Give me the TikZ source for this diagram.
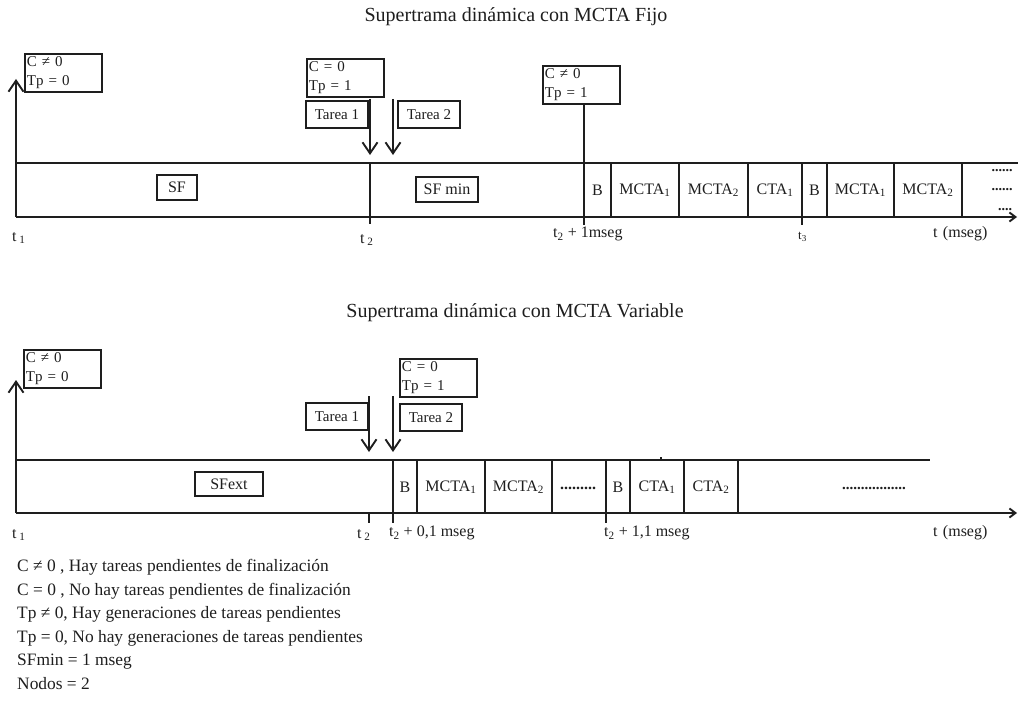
\documentclass[tikz,border=0pt]{standalone}
\usepackage{fontspec}
\setmainfont{Liberation Serif}
\usetikzlibrary{arrows.meta}
\definecolor{ink}{HTML}{1E1E1E}
\newcommand{\sbs}[1]{\textsubscript{#1}}
\begin{document}
\begin{tikzpicture}[x=1pt,y=-1pt,
  ln/.style={line width=1.9pt, draw=ink},
  flag/.style={draw=ink, line width=1.9pt, text=ink, font=\fontsize{15}{19}\selectfont, inner sep=0pt},
  condbox/.style={flag, text width=73pt, minimum height=38pt, align=left, inner xsep=2pt, anchor=north west},
  taskbox/.style={flag, minimum width=62pt, minimum height=27pt, anchor=north west},
  framebox/.style={flag, font=\fontsize{16}{19}\selectfont, minimum height=25pt},
  cell/.style={text=ink, font=\fontsize{16}{19}\selectfont, inner sep=0pt},
  dots/.style={text=ink, inner sep=0pt, font=\fontsize{#1}{#1}\selectfont\bfseries},
  tlabel/.style={text=ink, font=\fontsize{16}{19}\selectfont, inner sep=0pt, anchor=west},
  heading/.style={text=ink, font=\fontsize{20}{24}\selectfont, inner sep=0pt},
  legend/.style={text=ink, font=\fontsize{17.4}{20}\selectfont, anchor=base west, inner sep=0pt},
  barb/.style={-{Straight Barb[length=11pt,width=15pt]}},
  axis/.style={-{Straight Barb[length=6pt,width=9pt]}},
]
\useasboundingbox (0,0) rectangle (1018,725);

% ---------------- Fixed MCTA superframe ----------------
\node[heading] (titleA) at (516,17) {Supertrama dinámica con MCTA Fijo};

\coordinate (aTL) at (16,163);
\coordinate (aBL) at (16,217);
\coordinate (aTR) at (1018,163);
\coordinate (aBR) at (1017,217);
\coordinate (aUp) at (16,79);
\draw[ln] (aTL) -- (aTR);
\draw[ln,axis] (aBL) -- (aBR);
\draw[ln,barb] (aBL) -- (aUp);

\node[condbox] (aC1) at (24,53) {C ≠ 0\\Tp = 0};
\node[condbox] (aC2) at (306,58) {C = 0\\Tp = 1};
\node[condbox] (aC3) at (542,65) {C ≠ 0\\Tp = 1};
\node[taskbox] (aT1) at (305,100) {Tarea 1};
\node[taskbox] (aT2) at (397,100) {Tarea 2};

% task arrivals
\coordinate (aA1s) at (370,99);  \coordinate (aA1e) at (370,155);
\coordinate (aA2s) at (393,99);  \coordinate (aA2e) at (393,155);
\draw[ln,barb] (aA1s) -- (aA1e);
\draw[ln,barb] (aA2s) -- (aA2e);

% slot boundaries
\coordinate (aT2tick) at (370,224);
\coordinate (aT1msTick) at (584,225);
\coordinate (aT3tick) at (802,225);
\draw[ln] (370,163) -- (aT2tick);
\draw[ln] (aC3.south -| aT1msTick) -- (aT1msTick);
\draw[ln] (802,163) -- (aT3tick);
\foreach \x in {611,679,748,827,894,962}
  \draw[ln] (\x,163) -- (\x,217);

\node[framebox, minimum width=40pt] (aSF) at (177,187.5) {SF};
\node[framebox, minimum width=62pt] (aSFmin) at (447,189.5) {SF min};

\node[cell] (aB1) at (597.5,190) {B};
\node[cell] (aM1) at (645,190) {MCTA\sbs{1}};
\node[cell] (aM2) at (713.5,190) {MCTA\sbs{2}};
\node[cell] (aK1) at (775,190) {CTA\sbs{1}};
\node[cell] (aB2) at (814.5,190) {B};
\node[cell] (aM3) at (860.5,190) {MCTA\sbs{1}};
\node[cell] (aM4) at (928,190) {MCTA\sbs{2}};
\node[dots=14] (aD1) at (1002,171) {......};
\node[dots=14] (aD2) at (1002,190) {......};
\node[dots=14] (aD3) at (1005,210) {....};

\node[tlabel] (at1) at (12,238) {t\,\sbs{1}};
\node[tlabel] (at2) at (360,240) {t\,\sbs{2}};
\node[tlabel] (at2b) at (553,234) {t\sbs{2} + 1mseg};
\node[tlabel, font=\fontsize{13}{16}\selectfont] (at3) at (798,237) {t\sbs{3}};
\node[tlabel] (atm) at (933,234) {t\,\,(mseg)};

% ---------------- Variable MCTA superframe ----------------
\node[heading] (titleB) at (515,313) {Supertrama dinámica con MCTA Variable};

\coordinate (bTL) at (16,460);
\coordinate (bBL) at (16,513);
\coordinate (bTR) at (930,460);
\coordinate (bBR) at (1017,513);
\coordinate (bUp) at (16,380);
\draw[ln] (bTL) -- (bTR);
\draw[ln,axis] (bBL) -- (bBR);
\draw[ln,barb] (bBL) -- (bUp);
\draw[ink, line width=2pt] (660,458) -- (662,458);

\node[condbox] (bC1) at (23,349) {C ≠ 0\\Tp = 0};
\node[condbox] (bC2) at (399,358) {C = 0\\Tp = 1};
\node[taskbox] (bT1) at (305,402) {Tarea 1};
\node[taskbox] (bT2) at (399,403) {Tarea 2};

\coordinate (bA1s) at (369,396);  \coordinate (bA1e) at (369,452);
\coordinate (bA2s) at (393,396);  \coordinate (bA2e) at (393,452);
\draw[ln,barb] (bA1s) -- (bA1e);
\draw[ln,barb] (bA2s) -- (bA2e);

\coordinate (bT2tick) at (369,523);
\coordinate (bT01tick) at (393,523);
\coordinate (bT11tick) at (606,523);
\draw[ln] (369,513) -- (bT2tick);
\draw[ln] (393,460) -- (bT01tick);
\draw[ln] (606,460) -- (bT11tick);
\foreach \x in {417,485,552,630,684,738}
  \draw[ln] (\x,460) -- (\x,513);

\node[framebox, minimum width=68pt, minimum height=24pt] (bSFext) at (229,484) {SFext};

\node[cell] (bB1) at (405,487) {B};
\node[cell] (bM1) at (451,487) {MCTA\sbs{1}};
\node[cell] (bM2) at (518.5,487) {MCTA\sbs{2}};
\node[dots=16] (bD1) at (578,488) {.........};
\node[cell] (bB2) at (618,487) {B};
\node[cell] (bK1) at (657,487) {CTA\sbs{1}};
\node[cell] (bK2) at (711,487) {CTA\sbs{2}};
\node[dots=15] (bD2) at (874,488) {.................};

\node[tlabel] (bt1) at (12,535) {t\,\sbs{1}};
\node[tlabel] (bt2) at (357,535) {t\,\sbs{2}};
\node[tlabel] (bt2a) at (389,533) {t\sbs{2} + 0,1 mseg};
\node[tlabel] (bt2b) at (604,533) {t\sbs{2} + 1,1 mseg};
\node[tlabel] (btm) at (933,533) {t\,\,(mseg)};

% ---------------- Legend ----------------
\node[legend] (l1) at (17,571) {C ≠ 0 , Hay tareas pendientes de finalización};
\node[legend] (l2) at (17,595) {C = 0 , No hay tareas pendientes de finalización};
\node[legend] (l3) at (17,618) {Tp ≠ 0, Hay generaciones de tareas pendientes};
\node[legend] (l4) at (17,642) {Tp = 0, No hay generaciones de tareas pendientes};
\node[legend] (l5) at (17,665) {SFmin = 1 mseg};
\node[legend] (l6) at (17,689) {Nodos = 2};
\end{tikzpicture}
\end{document}
